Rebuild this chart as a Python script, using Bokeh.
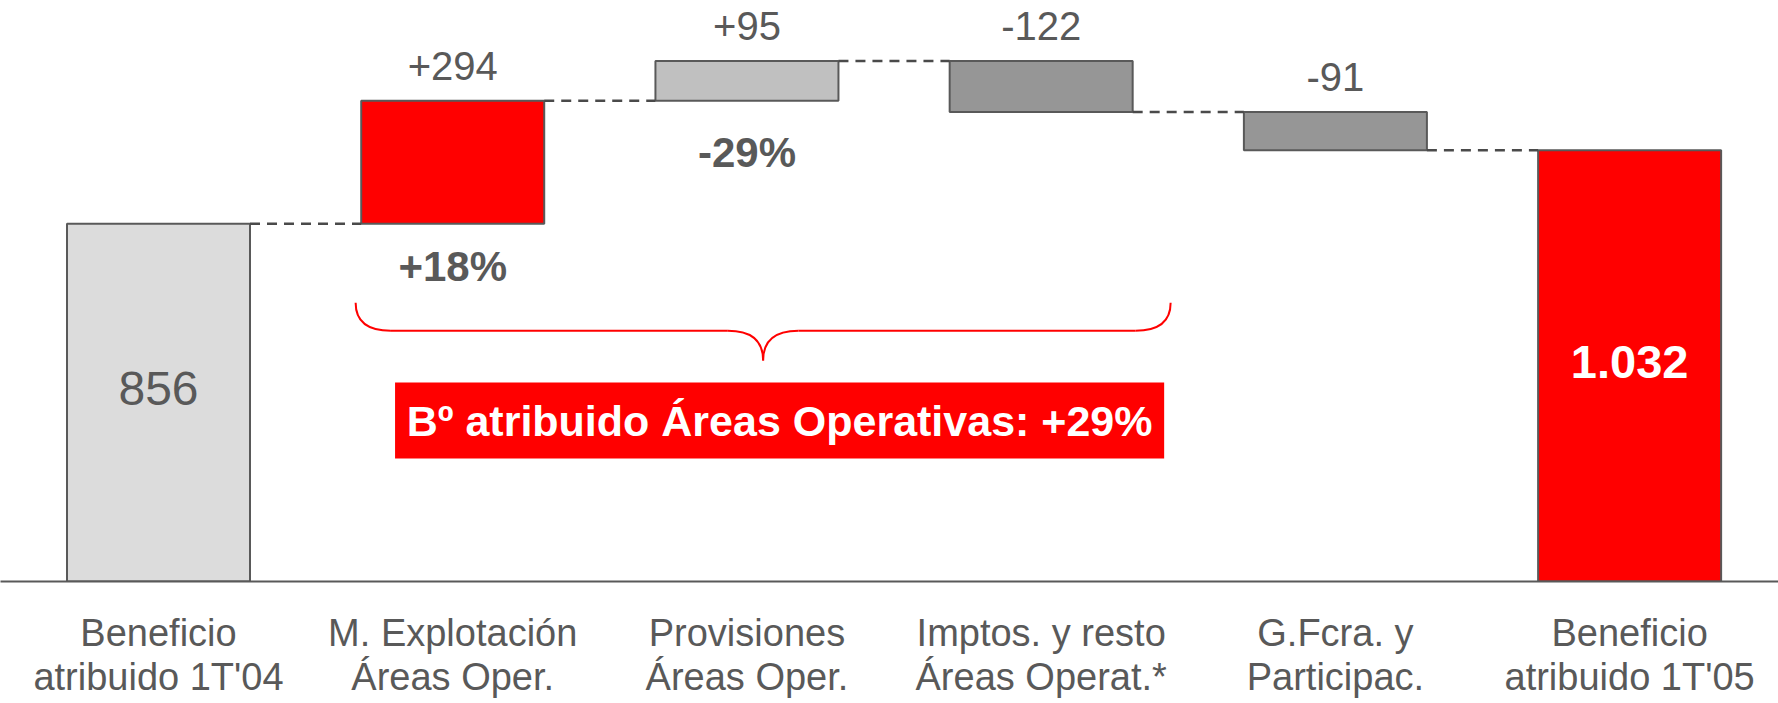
from bokeh.plotting import figure
from bokeh.models import Range1d, FixedTicker, ColumnDataSource
from bokeh.core.properties import value
from bokeh.embed import file_html
from bokeh.resources import INLINE

# ---------------- data ----------------
categories = [
    "Beneficio\natribuido 1T'04",
    "M. Explotación\nÁreas Oper.",
    "Provisiones\nÁreas Oper.",
    "Imptos. y resto\nÁreas Operat.*",
    "G.Fcra. y\nParticipac.",
    "Beneficio\natribuido 1T'05",
]
values = [856, 294, 95, -122, -91, 1032]
kinds = ["total", "delta", "delta", "delta", "delta", "total"]
value_labels = ["856", "+294", "+95", "-122", "-91", "1.032"]
fill_colors = ["#DCDCDC", "#FF0000", "#C0C0C0", "#969696", "#969696", "#FF0000"]

pct_bar_index = [1, 2]
pct_labels = ["+18%", "-29%"]

summary_text = "Bº atribuido Áreas Operativas: +29%"

# annotation geometry (data units)
brace_x = [0.67, 3.44]
brace_y_end, brace_y_mid, brace_y_tip = 667, 600, 529
brace_dx = 0.12
box_x = [0.804, 3.418]
box_y = [294, 476]

GRAY = "#595959"
FONT = "Liberation Sans"
BAR_W = 0.622

# ---------------- waterfall computation ----------------
lows, highs = [], []
running = 0
for v, k in zip(values, kinds):
    if k == "total":
        lo, hi = 0, v
        running = v
    else:
        lo, hi = min(running, running + v), max(running, running + v)
        running = running + v
    lows.append(lo)
    highs.append(hi)

xs = list(range(len(values)))
src = ColumnDataSource(dict(x=xs, bottom=lows, top=highs, fill=fill_colors))

p = figure(
    frame_width=1778, frame_height=581,
    x_range=Range1d(-0.537, 5.506), y_range=Range1d(0, 1390),
    output_backend="svg", toolbar_location=None,
    min_border_left=0, min_border_right=0, min_border_top=0, min_border_bottom=0,
    y_axis_location=None,
)
p.outline_line_color = None
p.grid.visible = False
p.background_fill_color = "white"
p.border_fill_color = "white"

# bars
p.vbar(x="x", bottom="bottom", top="top", width=BAR_W, fill_color="fill",
       line_color=GRAY, line_width=2, source=src)

# connectors
cx0, cx1, cy = [], [], []
for i in range(len(values) - 1):
    level = highs[i] if (kinds[i] == "total" or values[i] >= 0) else lows[i]
    cx0.append(i + BAR_W / 2)
    cx1.append(i + 1 - BAR_W / 2)
    cy.append(level)
p.segment(x0=cx0, y0=cy, x1=cx1, y1=cy, line_color="#4A4A4A", line_width=2.5, line_dash="10 7")

# labels above delta bars
dx_, dy_, dt_ = [], [], []
for i, k in enumerate(kinds):
    if k == "delta":
        dx_.append(i); dy_.append(highs[i]); dt_.append(value_labels[i])
p.text(x=dx_, y=dy_, text=dt_, text_align="center", text_baseline="alphabetic",
       y_offset=-35, text_font=value(FONT), text_font_size="40px", text_color=GRAY)

# labels inside total bars
p.text(x=[0], y=[highs[0] / 2], text=[value_labels[0]], text_align="center",
       text_baseline="middle", y_offset=-14, text_font=value(FONT),
       text_font_size="48px", text_color=GRAY)
p.text(x=[5], y=[highs[5] / 2], text=[value_labels[5]], text_align="center",
       text_baseline="middle", y_offset=-4, text_font=value(FONT), text_font_size="47px",
       text_color="white", text_font_style="bold")

# percentage labels under bars
p.text(x=pct_bar_index, y=[lows[i] for i in pct_bar_index], text=pct_labels,
       text_align="center", text_baseline="alphabetic", y_offset=[43, 52],
       text_font=value(FONT), text_font_size="42px", text_color=GRAY,
       text_font_style="bold")

# brace
xc = (brace_x[0] + brace_x[1]) / 2
p.quadratic(x0=[brace_x[0], xc - brace_dx, xc + brace_dx, brace_x[1]],
            y0=[brace_y_end, brace_y_mid, brace_y_mid, brace_y_end],
            x1=[brace_x[0] + brace_dx, xc, xc, brace_x[1] - brace_dx],
            y1=[brace_y_mid, brace_y_tip, brace_y_tip, brace_y_mid],
            cx=[brace_x[0], xc, xc, brace_x[1]],
            cy=[brace_y_mid, brace_y_mid, brace_y_mid, brace_y_mid],
            line_color="#FF0000", line_width=2)
p.segment(x0=[brace_x[0] + brace_dx, xc + brace_dx],
          y0=[brace_y_mid, brace_y_mid],
          x1=[xc - brace_dx, brace_x[1] - brace_dx],
          y1=[brace_y_mid, brace_y_mid],
          line_color="#FF0000", line_width=2)

# summary box
p.quad(left=[box_x[0]], right=[box_x[1]], bottom=[box_y[0]], top=[box_y[1]],
       fill_color="#FF0000", line_color=None)
p.text(x=[(box_x[0] + box_x[1]) / 2], y=[(box_y[0] + box_y[1]) / 2], text=[summary_text],
       text_align="center", text_baseline="middle", text_font=value(FONT),
       text_font_size="43px", text_font_style="bold", text_color="white")

# x axis
ax = p.xaxis[0]
ax.ticker = FixedTicker(ticks=xs)
ax.major_label_overrides = {i: c for i, c in enumerate(categories)}
ax.major_tick_line_color = None
ax.minor_tick_line_color = None
ax.axis_line_color = GRAY
ax.axis_line_width = 2
ax.major_label_standoff = 24
ax.major_label_text_font = FONT
ax.major_label_text_font_size = "38px"
ax.major_label_text_color = GRAY
ax.major_label_text_line_height = 1.05

open("out.html", "w").write(file_html(p, INLINE))
